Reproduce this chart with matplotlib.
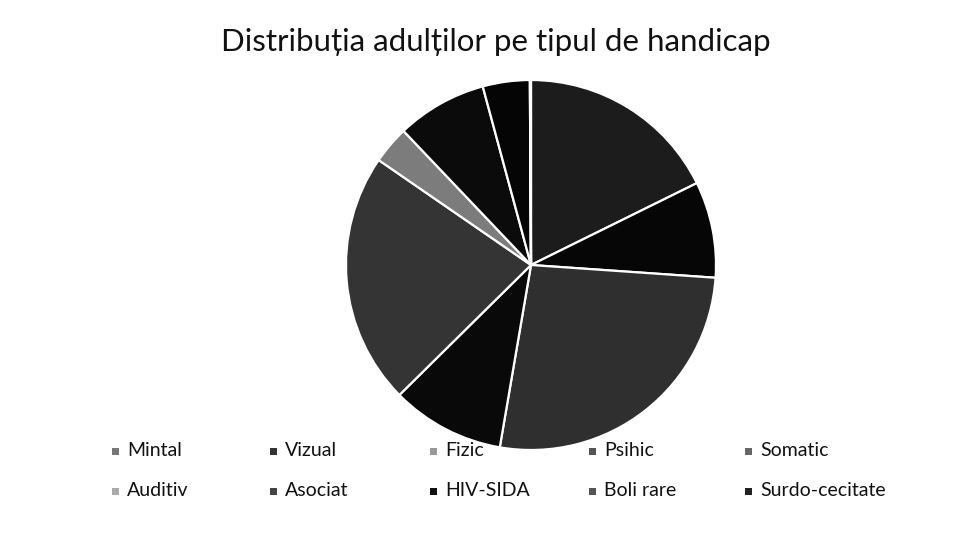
import matplotlib.pyplot as plt
from matplotlib.patches import Rectangle

plt.rcParams['font.family'] = ['Lato', 'DejaVu Sans']

# share of adults per type of disability (%)
labels = ['Mintal', 'Vizual', 'Fizic', 'Psihic', 'Somatic',
          'Auditiv', 'Asociat', 'HIV-SIDA', 'Boli rare', 'Surdo-cecitate']
values = [17.7, 8.4, 26.6, 9.9, 22.0, 3.3, 7.9, 4.1, 0.05, 0.05]
# the scan is grayscale, so the slices are all dark greys
colors = ['#1c1c1c', '#060606', '#2f2f2f', '#090909', '#343434',
          '#7c7c7c', '#0b0b0b', '#050505', '#202020', '#101010']
marker_colors = ['#777777', '#333333', '#999999', '#555555', '#666666',
                 '#aaaaaa', '#444444', '#111111', '#555555', '#222222']

fig = plt.figure(figsize=(9.77, 5.36), dpi=100)
fig.patch.set_facecolor('white')

fig.text(0.507, 0.922, 'Distribuția adulților pe tipul de handicap',
         ha='center', va='center', fontsize=22.5, color='#111111')

# pie: centre ~ (531, 265) px, radius ~ 185 px
ax = fig.add_axes([(531 - 185) / 977, (536 - 265 - 185) / 536,
                   370 / 977, 370 / 536])
ax.pie(values, colors=colors, startangle=90, counterclock=False,
       wedgeprops=dict(edgecolor='white', linewidth=1.6))
ax.set_xlim(-1, 1)
ax.set_ylim(-1, 1)
ax.set_aspect('equal')
ax.axis('off')

# legend, two rows of five, laid out like the original
col_x = [115, 273, 433, 592, 748]
row_y = [451, 491]
for i, (lab, mc) in enumerate(zip(labels, marker_colors)):
    x = col_x[i % 5] / 977
    y = 1 - row_y[i // 5] / 536
    fig.add_artist(Rectangle((x - 3.5 / 977, y - 3.5 / 536), 7 / 977, 7 / 536,
                             transform=fig.transFigure, facecolor=mc,
                             edgecolor='none'))
    fig.text(x + 12 / 977, y, lab, ha='left', va='center',
             fontsize=14, color='#111111')

fig.savefig('out.png', dpi=100, facecolor='white')
